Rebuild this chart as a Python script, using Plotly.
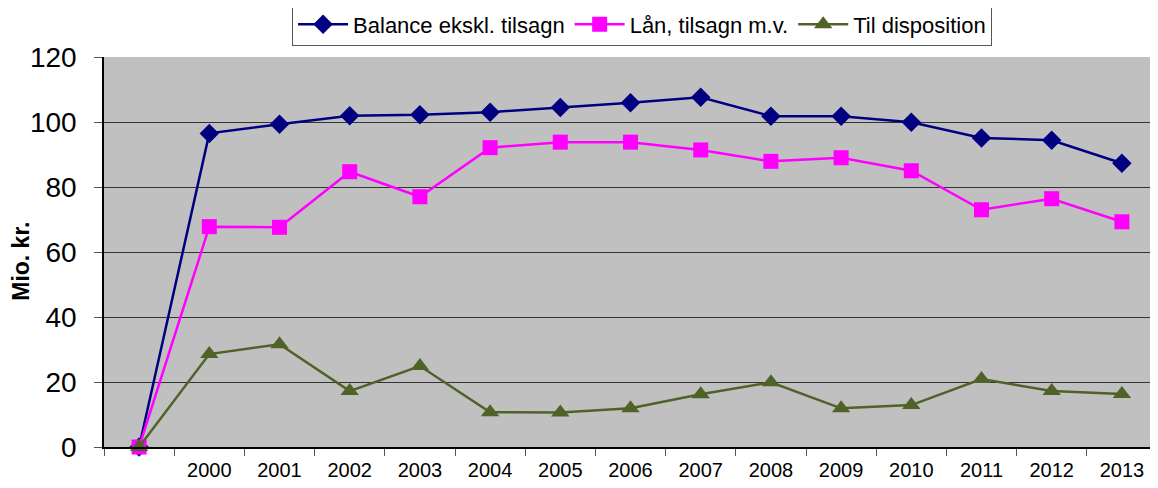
import plotly.graph_objects as go

categories = [" ", "2000", "2001", "2002", "2003", "2004", "2005", "2006",
              "2007", "2008", "2009", "2010", "2011", "2012", "2013"]
balance = [0, 96.5, 99.3, 101.9, 102.2, 103.0, 104.5, 105.9, 107.6,
           101.8, 101.8, 99.9, 95.1, 94.4, 87.3]
laan = [0, 67.8, 67.6, 84.7, 77.0, 92.1, 93.8, 93.8, 91.4,
        87.9, 89.0, 85.0, 73.0, 76.4, 69.3]
disposition = [0, 28.6, 31.6, 17.2, 24.9, 10.7, 10.6, 11.9, 16.2,
               19.9, 11.9, 12.9, 20.9, 17.2, 16.3]

names = ["Balance ekskl. tilsagn", "Lån, tilsagn m.v.", "Til disposition"]
colors = ["#000080", "#FF00FF", "#4F6228"]
symbols = ["diamond", "square", "triangle-up"]
sizes = [15, 15, 16]

fig = go.Figure()
for vals, name, col, sym, sz in zip([balance, laan, disposition], names, colors, symbols, sizes):
    fig.add_trace(go.Scatter(
        x=categories, y=vals, name=name, mode="lines+markers",
        line=dict(color=col, width=2.5),
        marker=dict(symbol=sym, size=sz, color=col),
        cliponaxis=False,
    ))

font_family = "Liberation Sans, Arial, sans-serif"

# page body has an 8px default margin; size the figure so the plot lands where the reference has it
fig.update_layout(
    width=1150, height=480,
    margin=dict(l=96, r=1, t=49, b=41, autoexpand=False),
    paper_bgcolor="white",
    plot_bgcolor="#C0C0C0",
    font=dict(family=font_family, color="black"),
    showlegend=True,
    legend=dict(
        orientation="h", x=0.511, xanchor="center", y=1.027, yanchor="bottom",
        bgcolor="white", bordercolor="#555555", borderwidth=1,
        font=dict(size=22, family=font_family),
        itemwidth=50, tracegroupgap=0,
    ),
    xaxis=dict(
        type="category", tickson="boundaries", showgrid=False,
        ticks="outside", ticklen=7, tickcolor="#555555",
        showline=True, linecolor="black", linewidth=1.5,
        tickfont=dict(size=20), range=[-0.5, 14.5], automargin=False,
        ticklabelstandoff=4,
    ),
    yaxis=dict(
        range=[0, 120], tickvals=[0, 20, 40, 60, 80, 100, 120],
        showgrid=True, gridcolor="#333333", gridwidth=1,
        ticks="outside", ticklen=8, tickcolor="#555555",
        showline=True, linecolor="black", linewidth=1.5,
        tickfont=dict(size=28), ticklabelstandoff=12,
        zeroline=False, automargin=False,
    ),
    annotations=[dict(
        text="<b>Mio. kr.</b>", textangle=-90, showarrow=False,
        xref="paper", yref="paper", x=-0.079, y=0.477,
        xanchor="center", yanchor="middle",
        font=dict(size=23, family=font_family),
    )],
)

fig.write_html("out.html")
